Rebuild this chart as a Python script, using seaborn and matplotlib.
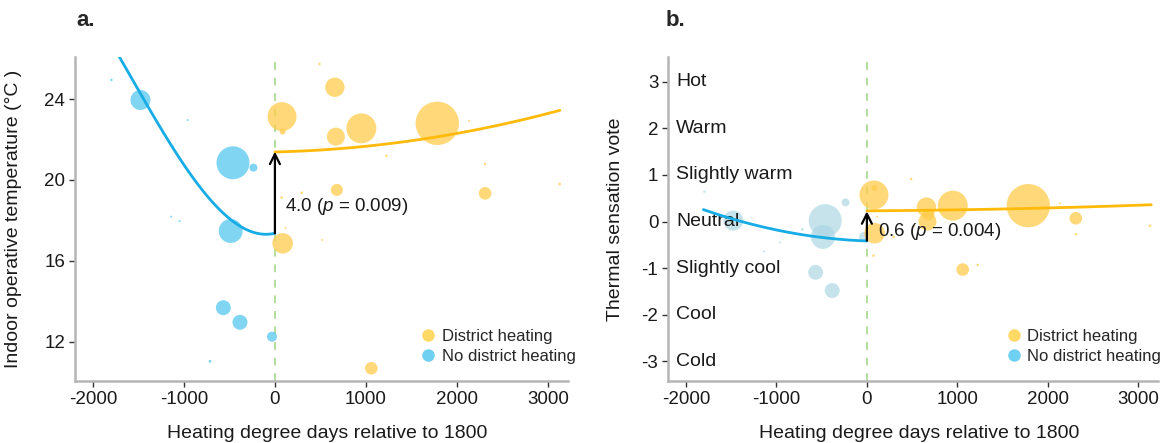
import numpy as np
import pandas as pd
import matplotlib
matplotlib.use("Agg")
import matplotlib.pyplot as plt
import seaborn as sns
from matplotlib.lines import Line2D

# ---------------- data ----------------
# No district heating buildings
blue_hdd = [-1478, -461, -236, -486, -567, -384, -32, -714, -1797, -960, -1140, -1048]
blue_n = [100, 272, 16, 144, 56, 56, 25, 2, 1.5, 1, 1, 1]
blue_temp = [23.95, 20.85, 20.61, 17.48, 13.69, 12.97, 12.26, 11.04, 24.94, 22.96, 18.19, 17.97]
blue_tsv = [0.02, 0.02, 0.41, -0.33, -1.09, -1.48, -0.33, -0.17, 0.64, -0.45, -0.64, -0.14]

# District heating buildings
yel_hdd = [78, 85, 659, 670, 950, 1785, 681, 2311, 1060, 85, 490, 3131, 1226, 74, 295, 2311, 2135, 115, 520]
yel_n = [210, 9, 94, 81, 225, 471, 36, 40, 40, 106, 1.5, 1.7, 1.5, 1.7, 1.7, 1.5, 1, 1, 1]
yel_temp = [23.13, 22.39, 24.58, 22.14, 22.55, 22.80, 19.51, 19.34, 10.70, 16.87,
            25.73, 19.80, 21.2, 19.13, 19.37, 20.79, 22.91, 17.62, 17.04]
yel_tsv = [0.57, 0.72, 0.31, 0.0, 0.34, 0.34, 0.15, 0.07, -1.03, -0.25,
           0.91, -0.09, -0.93, -0.73, -0.33, -0.27, 0.39, 0.1, -0.1]

# fitted trend lines
fit_a_blue_x = [-1717, -1450, -1166, -879, -540, -246, 0]
fit_a_blue_y = [26.17, 23.95, 21.98, 20.0, 18.19, 17.45, 17.37]
fit_a_yel_x = [0, 824, 1777, 2289, 3132]
fit_a_yel_y = [21.40, 21.56, 22.11, 22.6, 23.42]
fit_b_blue_x = [-1809, -1495, -998, -593, -298, 0]
fit_b_blue_y = [0.25, 0.07, -0.18, -0.32, -0.39, -0.41]
fit_b_yel_x = [0, 1765, 3146]
fit_b_yel_y = [0.23, 0.28, 0.36]

# discontinuity at 0 (lower, upper) and labels
jump_a = (17.37, 21.40)
jump_b = (-0.41, 0.22)
jump_a_label = "4.0 ($p$ = 0.009)"
jump_b_label = "0.6 ($p$ = 0.004)"

yticks_a = [12, 16, 20, 24]
xticks = [-2000, -1000, 0, 1000, 2000, 3000]
tsv_ticks = [3, 2, 1, 0, -1, -2, -3]
tsv_names = ["Hot", "Warm", "Slightly warm", "Neutral", "Slightly cool", "Cool", "Cold"]
legend_labels = ["District heating", "No district heating"]

# ---------------- style ----------------
sns.set_theme(style="white")
plt.rcParams["font.family"] = ["Liberation Sans", "DejaVu Sans"]
plt.rcParams["mathtext.fontset"] = "custom"
plt.rcParams["mathtext.it"] = "Liberation Sans:italic"
plt.rcParams["mathtext.rm"] = "Liberation Sans"
plt.rcParams["axes.unicode_minus"] = False

YEL = "#FFCC4D"
YEL_LINE = "#FFBA0A"
BLUE_A = "#55C8F0"
BLUE_B = "#A8D5E2"
BLUE_LINE = "#17ACE6"
GREEN = "#B2DE9C"
SPINE = "#b5b5b5"
SMAX = 975
NMAX = 471

W, H = 1164, 443
fig = plt.figure(figsize=(W / 100, H / 100), dpi=100)
ax_a = fig.add_axes([74.8 / W, 62 / H, 493 / W, 324.3 / H])
ax_b = fig.add_axes([668 / W, 62 / H, 490 / W, 324.3 / H])

df_blue = pd.DataFrame({"hdd": blue_hdd, "n": blue_n, "temp": blue_temp, "tsv": blue_tsv})
df_yel = pd.DataFrame({"hdd": yel_hdd, "n": yel_n, "temp": yel_temp, "tsv": yel_tsv})


def style_axes(ax):
    for s in ["top", "right"]:
        ax.spines[s].set_visible(False)
    for s in ["left", "bottom"]:
        ax.spines[s].set_color(SPINE)
        ax.spines[s].set_linewidth(1.8)
    ax.tick_params(axis="both", which="both", bottom=True, left=True, direction="out",
                   length=4, width=1, color="#333333", labelsize=13.5, pad=3,
                   labelcolor="#1a1a1a")
    ax.set_xlim(-2200, 3220)
    ax.set_xticks(xticks)
    ax.set_xticklabels([str(t) for t in xticks])
    ax.set_xlabel("Heating degree days relative to 1800", fontsize=14, color="#1a1a1a")
    ax.xaxis.set_label_coords(0.512, -0.135)
    ax.axvline(0, color=GREEN, lw=1.4, ls=(0, (4, 4)), zorder=0)


def bubbles(ax, df, col, color, alpha):
    sns.scatterplot(data=df, x="hdd", y=col, size="n", sizes=(0, SMAX), size_norm=(0, NMAX),
                    color=color, alpha=alpha, linewidth=0, edgecolor="none",
                    legend=False, ax=ax, zorder=2)


def trend(ax, x, y, color, order):
    sns.regplot(x=np.array(x, float), y=np.array(y, float), order=order, scatter=False,
                ci=None, truncate=True, ax=ax, line_kws=dict(color=color, lw=2.0, zorder=4))


def legend(ax, x0, blue):
    handles = [Line2D([], [], marker="o", ls="", markersize=9, markerfacecolor="#FFD966",
                      markeredgewidth=0),
               Line2D([], [], marker="o", ls="", markersize=9, markerfacecolor=blue,
                      markeredgewidth=0)]
    ax.legend(handles, legend_labels, loc="upper left", bbox_to_anchor=(x0, 0.16),
              frameon=False, fontsize=12, handlelength=1.0, handletextpad=0.3,
              labelspacing=0.3, borderpad=0, borderaxespad=0)


# ---------------- panel a ----------------
ax = ax_a
style_axes(ax)
bubbles(ax, df_blue, "temp", BLUE_A, 0.75)
bubbles(ax, df_yel, "temp", YEL, 0.75)
trend(ax, fit_a_blue_x, fit_a_blue_y, BLUE_LINE, 3)
trend(ax, fit_a_yel_x, fit_a_yel_y, YEL_LINE, 2)
ax.annotate("", xy=(0, jump_a[1]), xytext=(0, jump_a[0]),
            arrowprops=dict(arrowstyle="->", color="black", lw=1.6, mutation_scale=18,
                            shrinkA=0, shrinkB=0), zorder=5)
ax.text(115, 18.68, jump_a_label, fontsize=13.5, va="center", ha="left", color="#1a1a1a")
ax.set_ylim(10.07, 26.09)
ax.set_yticks(yticks_a)
ax.set_yticklabels([str(t) for t in yticks_a])
ax.set_ylabel("Indoor operative temperature (°C )", fontsize=14, color="#1a1a1a")
ax.yaxis.set_label_coords(-0.107, 0.5)
legend(ax, 0.70, "#6FD0F2")

# ---------------- panel b ----------------
ax = ax_b
style_axes(ax)
bubbles(ax, df_blue, "tsv", BLUE_B, 0.65)
bubbles(ax, df_yel, "tsv", YEL, 0.75)
trend(ax, fit_b_blue_x, fit_b_blue_y, BLUE_LINE, 2)
trend(ax, fit_b_yel_x, fit_b_yel_y, YEL_LINE, 2)
ax.annotate("", xy=(0, jump_b[1]), xytext=(0, jump_b[0]),
            arrowprops=dict(arrowstyle="->", color="black", lw=1.6, mutation_scale=18,
                            shrinkA=0, shrinkB=0), zorder=5)
ax.text(122, -0.21, jump_b_label, fontsize=13.5, va="center", ha="left", color="#1a1a1a")
ax.set_ylim(-3.42, 3.535)
ax.set_yticks(tsv_ticks)
ax.set_yticklabels([str(t) for t in tsv_ticks])
for v, name in zip(tsv_ticks, tsv_names):
    ax.text(0.017, v, name, transform=ax.get_yaxis_transform(), fontsize=14,
            va="center", ha="left", color="#1a1a1a", zorder=3)
ax.set_ylabel("Thermal sensation vote", fontsize=14, color="#1a1a1a")
ax.yaxis.set_label_coords(-0.089, 0.5)
legend(ax, 0.689, "#6FD0F2")

fig.text(76 / W, 1 - 21 / H, "a.", fontsize=16, fontweight="bold", va="center", ha="left")
fig.text(666 / W, 1 - 21 / H, "b.", fontsize=16, fontweight="bold", va="center", ha="left")

fig.savefig("out.png", dpi=100, facecolor="white")
